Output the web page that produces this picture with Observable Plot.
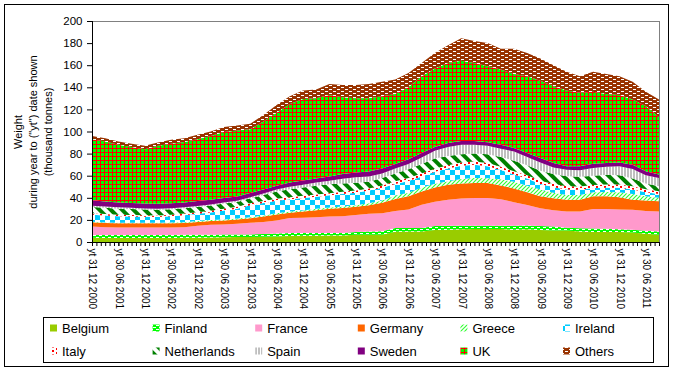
<!DOCTYPE html>
<html>
<head>
<meta charset="utf-8">
<script src="https://cdn.jsdelivr.net/npm/d3@7"></script>
<script src="https://cdn.jsdelivr.net/npm/@observablehq/plot@0.6"></script>
<style>
html, body { margin: 0; padding: 0; background: #fff; }
#wrap { position: relative; width: 673px; height: 370px; overflow: hidden; font-family: "Liberation Sans", Arial, sans-serif; }
#chart { position: absolute; left: 0; top: 0; }
#legend { position: absolute; left: 0; top: 316px; }
#border { position: absolute; left: 4px; top: 4px; width: 663px; height: 361px; border: 1px solid #000; pointer-events: none; }
pattern rect { shape-rendering: crispEdges; }
</style>
</head>
<body>
<svg width="0" height="0" style="position:absolute;left:0;top:0">
  <defs>
    <pattern id="p-fin" width="6" height="4" patternUnits="userSpaceOnUse">
      <rect width="6" height="4" fill="#00FF00"/>
      <rect x="0" y="1" width="3" height="1" fill="#fff"/>
      <rect x="3" y="3" width="3" height="1" fill="#fff"/>
    </pattern>
    <pattern id="p-gre" width="4" height="4" patternUnits="userSpaceOnUse">
      <rect width="4" height="4" fill="#fff"/>
      <path d="M0,4 L4,0 M-1,1 L1,-1 M3,5 L5,3" stroke="#33FF33" stroke-width="1.2"/>
    </pattern>
    <pattern id="p-ire" width="10" height="10" patternUnits="userSpaceOnUse">
      <rect width="10" height="10" fill="#fff"/>
      <rect width="5" height="5" fill="#00CCFF"/>
      <rect x="5" y="5" width="5" height="5" fill="#00CCFF"/>
    </pattern>
    <pattern id="p-ita" width="8" height="4" patternUnits="userSpaceOnUse">
      <rect width="8" height="4" fill="#fff"/>
      <rect x="0" y="0" width="2" height="2" fill="#FF0000"/>
      <rect x="4" y="2" width="2" height="2" fill="#FF0000"/>
    </pattern>
    <pattern id="p-ned" width="8" height="8" patternUnits="userSpaceOnUse" patternTransform="rotate(-45)">
      <rect width="8" height="8" fill="#fff"/>
      <rect width="4" height="8" fill="#008000"/>
    </pattern>
    <pattern id="p-spa" width="3" height="4" patternUnits="userSpaceOnUse">
      <rect width="3" height="4" fill="#fff"/>
      <rect width="2" height="4" fill="#C0C0C0"/>
    </pattern>
    <pattern id="p-uk" width="4" height="4" patternUnits="userSpaceOnUse">
      <rect width="4" height="4" fill="#00FF00"/>
      <rect width="4" height="1" fill="#FF0000"/>
      <rect width="1" height="4" fill="#FF0000"/>
    </pattern>
    <pattern id="p-oth" width="8" height="4" patternUnits="userSpaceOnUse">
      <rect width="8" height="4" fill="#993300"/>
      <rect x="1" y="1" width="3" height="1" fill="#fff"/>
      <rect x="5" y="3" width="3" height="1" fill="#fff"/>
    </pattern>
  </defs>
</svg>
<div id="wrap">
  <div id="chart"></div>
  <div id="legend"></div>
  <div id="border"></div>
</div>
<script>
// ---- data (thousand tonnes, year-to-date) ----
const series = ["Belgium","Finland","France","Germany","Greece","Ireland","Italy","Netherlands","Spain","Sweden","UK","Others"];

const periods = ["2000-12","2001-03","2001-06","2001-09","2001-12","2002-03","2002-06","2002-09","2002-12",
  "2003-03","2003-06","2003-09","2003-12","2004-03","2004-06","2004-09","2004-12","2005-03","2005-06","2005-09","2005-12",
  "2006-03","2006-06","2006-09","2006-12","2007-03","2007-06","2007-09","2007-12","2008-03","2008-06","2008-09","2008-12",
  "2009-03","2009-06","2009-09","2009-12","2010-03","2010-06","2010-09","2010-12","2011-03","2011-06","2011-09"];

const belgium = [3.8,3.7,3.6,3.6,3.6,3.6,3.7,3.8,3.9,4.0,4.3,4.5,4.6,4.7,5.0,5.4,5.7,5.7,5.8,5.9,6.5,6.6,6.6,9.2,9.6,9.6,10.8,11.1,11.6,11.7,11.7,11.7,11.0,11.5,10.8,10.5,10.3,9.5,9.0,9.0,9.0,8.5,7.5,6.6];
const finland = [2.5,2.6,2.7,2.7,2.7,2.7,2.7,2.7,2.7,2.6,2.4,2.3,2.3,2.5,2.8,2.7,2.4,2.4,2.3,2.3,2.5,3.0,3.2,3.4,3.0,3.0,3.7,3.6,3.1,3.0,3.0,3.0,3.8,3.5,3.7,3.5,2.7,3.0,3.3,3.0,2.6,2.6,2.7,3.0];
const france = [7.8,7.1,6.9,6.9,6.9,6.9,6.8,6.8,8.0,8.9,9.1,9.7,10.6,10.8,11.7,13.6,13.9,14.4,14.9,15.0,15.5,15.9,16.2,15.4,16.9,21.0,22.0,23.6,24.6,25.1,25.1,24.0,21.2,18.5,16.0,14.8,14.7,15.2,17.5,17.8,17.9,18.1,17.8,18.1];
const germany = [3.7,3.8,3.8,3.8,3.8,3.8,3.8,3.8,3.6,3.6,3.7,3.8,4.0,5.0,5.5,4.7,5.5,6.3,7.0,7.6,7.3,7.8,9.5,11.0,12.0,12.0,12.8,13.5,13.7,13.6,13.6,12.5,12.5,11.5,11.0,10.7,10.6,10.6,11.5,11.5,11.0,9.1,9.5,9.1];
const greece = [0.5,0.5,0.5,0.5,0.5,0.5,0.6,0.7,0.8,0.7,0.8,0.9,0.9,1.0,1.0,1.1,1.1,1.2,1.3,1.4,1.5,1.7,2.0,3.0,3.0,3.4,3.5,3.2,4.0,4.6,4.4,5.6,6.0,6.0,6.0,5.0,4.2,4.2,3.7,4.0,4.5,5.2,4.0,3.2];
const ireland = [6.4,6.3,5.8,5.5,5.3,5.1,5.6,6.5,6.5,7.0,8.3,9.0,10.9,11.2,11.3,11.1,11.2,11.0,10.9,11.2,11.2,11.5,11.5,10.5,10.7,10.2,10.7,11.5,12.0,11.9,10.8,8.4,6.5,6.5,5.0,5.0,5.0,4.8,3.8,3.9,4.0,4.0,3.5,3.5];
const italy = [1.3,1.4,1.4,1.4,1.4,1.4,1.4,1.5,1.5,1.5,1.6,1.6,1.7,1.8,1.9,2.0,2.0,2.0,2.0,2.1,2.1,2.0,2.2,2.5,2.8,2.8,2.8,3.0,3.0,2.9,2.9,3.0,3.0,3.0,3.0,3.0,3.0,2.9,2.7,2.8,3.0,3.0,2.8,2.5];
const netherlands = [5.6,5.5,5.5,5.4,5.2,5.2,5.0,4.7,4.6,4.7,4.6,4.5,4.5,5.5,6.6,7.2,7.5,7.8,8.1,7.5,7.0,6.1,6.8,7.0,7.8,8.5,9.2,8.3,7.5,7.2,7.8,8.8,9.5,9.0,9.0,9.0,9.0,8.8,8.5,8.9,8.5,7.0,5.2,4.5];
const spain = [1.3,1.3,1.3,1.1,1.0,0.9,1.0,1.0,1.0,1.0,1.0,1.0,1.0,1.5,1.7,2.2,2.5,3.0,3.2,4.3,5.0,4.7,4.0,4.5,4.7,6.0,7.0,8.2,8.5,8.0,7.7,7.5,8.5,7.5,7.5,6.0,5.8,6.0,7.0,7.1,8.0,8.5,7.5,7.5];
const sweden = [4.8,4.5,4.3,4.3,4.4,4.6,4.5,4.3,4.4,4.3,4.0,3.9,3.8,3.5,3.5,3.8,3.8,3.7,3.8,4.2,4.2,4.5,4.5,4.0,4.3,4.0,3.5,3.5,3.5,3.5,3.3,3.5,3.0,3.5,4.0,4.0,3.2,3.5,3.8,3.5,3.5,4.0,3.5,3.0];
const uk = [55.3,54.3,52.2,50.8,49.2,52.3,53.9,54.7,56.0,57.7,59.7,59.8,57.7,61.5,66.0,71.2,73.9,72.5,73.7,69.5,67.2,66.2,65.5,63.5,65.2,69.5,71.0,72.5,72.5,70.5,68.7,68.0,67.0,69.5,70.0,69.5,68.5,66.5,65.2,62.5,61.0,59.0,59.0,52.0];
const others = [3,3,3,3,3,3,3.5,3.5,4,4,4.5,4.5,5,6,7,7,7.5,8,10,11,12,13,13,13,13,12,14,16,20.5,20,21,19,23,21,20,19,17,15,18,18,17,16,13,16];

const yTicks = [0,20,40,60,80,100,120,140,160,180,200];
const tickLabels = ["yt 31 12 2000","yt 30 06 2001","yt 31 12 2001","yt 30 06 2002","yt 31 12 2002","yt 30 06 2003",
  "yt 31 12 2003","yt 30 06 2004","yt 31 12 2004","yt 30 06 2005","yt 31 12 2005","yt 30 06 2006","yt 31 12 2006",
  "yt 30 06 2007","yt 31 12 2007","yt 30 06 2008","yt 31 12 2008","yt 30 06 2009","yt 31 12 2009","yt 30 06 2010",
  "yt 31 12 2010","yt 30 06 2011"];
const yTitle = "Weight\nduring year to (\"yt\") date shown\n(thousand tonnes)";

// ---- build ----
const seriesValues = [belgium, finland, france, germany, greece, ireland, italy, netherlands, spain, sweden, uk, others];
const fills = ["#99CC00","url(#p-fin)","#FF99CC","#FF6600","url(#p-gre)","url(#p-ire)","url(#p-ita)","url(#p-ned)","url(#p-spa)","#800080","url(#p-uk)","url(#p-oth)"];

const monthIndex = (y, mo) => (y - 2000) * 12 + mo - 12;
const periodIndex = p => { const [y, mo] = p.split("-").map(Number); return monthIndex(y, mo); };
const rows = series.flatMap((s, i) => periods.map((p, j) => ({series: s, m: periodIndex(p), value: seriesValues[i][j]})));

const lastM = periodIndex(periods[periods.length - 1]);
const monthTicks = d3.range(0, lastM + 1);
const labelMap = new Map(tickLabels.map(l => { const parts = l.split(" "); return [monthIndex(+parts[3], +parts[2]), l]; }));
const labelTicks = [...labelMap.keys()];

const H = 316;
const chart = Plot.plot({
  width: 673,
  height: H,
  marginLeft: 92,
  marginRight: 14,
  marginTop: 21,
  marginBottom: H - 242,
  style: {fontFamily: "'Liberation Sans', Arial, sans-serif", fontSize: "11px", color: "#000", background: "transparent"},
  x: {type: "linear", domain: [0, lastM]},
  y: {domain: [0, 200]},
  color: {type: "ordinal", domain: series, range: fills},
  marks: [
    Plot.frame({stroke: "#808080"}),
    Plot.areaY(rows, Plot.stackY({x: "m", y: "value", z: "series", fill: "series", order: series})),
    Plot.ruleX([0], {stroke: "#000"}),
    Plot.ruleY([0], {stroke: "#000"}),
    Plot.axisY({ticks: yTicks, tickSize: 5, tickPadding: 5, label: null, fontSize: 11.5, stroke: "#000"}),
    Plot.axisX({ticks: monthTicks, tickSize: 4, tickFormat: () => "", label: null, stroke: "#000"}),
    Plot.axisX({ticks: labelTicks, tickSize: 4, tickPadding: 2, tickRotate: 90, tickFormat: d => labelMap.get(d), label: null, fontSize: 10}),
    Plot.text([yTitle], {frameAnchor: "left", dx: -60, rotate: -90, text: d => d, textAnchor: "middle", lineHeight: 1.36, fontSize: 11, fill: "#000"})
  ]
});
document.getElementById("chart").appendChild(chart);

// ---- legend ----
const lg = d3.create("svg").attr("width", 673).attr("height", 54)
  .style("font-family", "'Liberation Sans', Arial, sans-serif");
lg.append("rect").attr("x", 43.5).attr("y", 1.5).attr("width", 610).attr("height", 45)
  .attr("fill", "#fff").attr("stroke", "#000");
series.forEach((s, i) => {
  const col = i % 6, row = Math.floor(i / 6);
  const x = 50 + col * 102.6, y = 12 + row * 23;
  lg.append("rect").attr("x", x).attr("y", y - 3.5).attr("width", 7).attr("height", 7).attr("fill", fills[i]);
  lg.append("text").attr("x", x + 12).attr("y", y).attr("dy", "0.35em").attr("font-size", 13).attr("fill", "#000").text(s);
});
document.getElementById("legend").appendChild(lg.node());
</script>
</body>
</html>
